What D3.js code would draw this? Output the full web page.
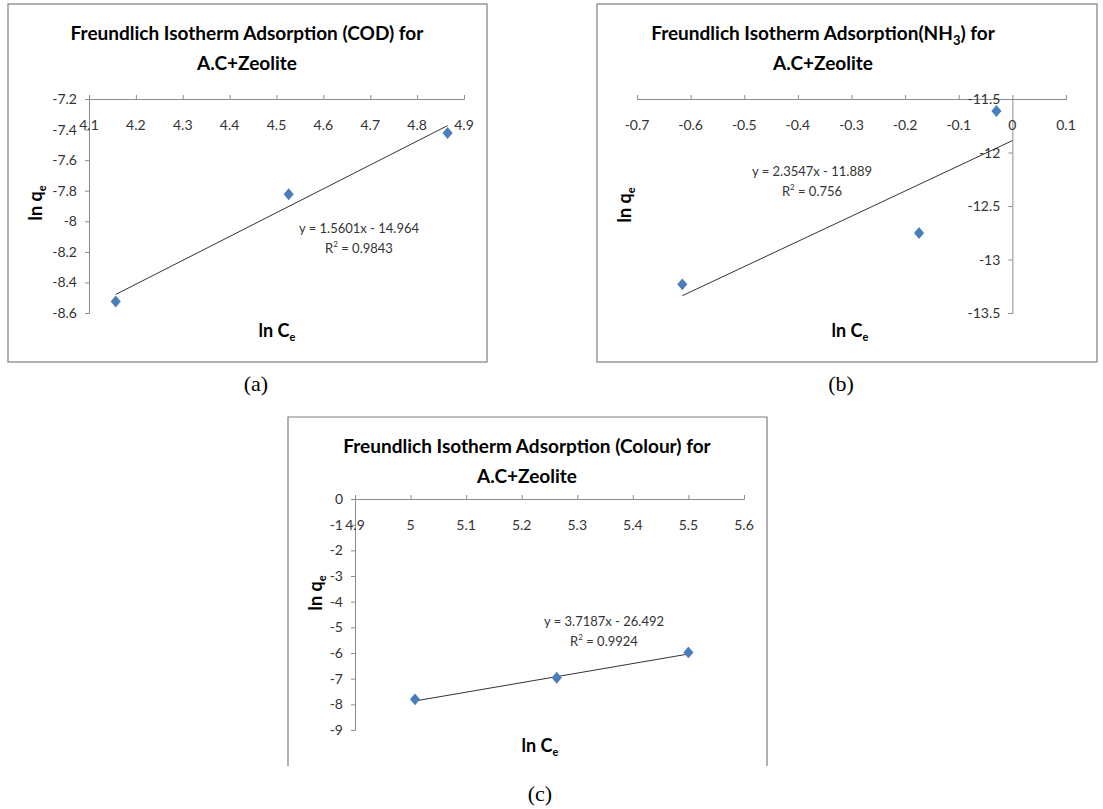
<!DOCTYPE html>
<html>
<head>
<meta charset="utf-8">
<script src="https://cdn.jsdelivr.net/npm/d3@7"></script>
<style>
  body { margin: 0; background: #fff; }
  text { font-family: Lato, "Open Sans", sans-serif; }
  .cap { font-family: "Liberation Serif", "Times New Roman", serif; }
</style>
</head>
<body>
<svg id="chart" width="1103" height="809"></svg>
<script>
// (a) COD
const codX = [4.157, 4.526, 4.865];
const codY = [-8.525, -7.823, -7.422];
const codFit = [1.5601, -14.964];
const codXTicks = [4.1, 4.2, 4.3, 4.4, 4.5, 4.6, 4.7, 4.8, 4.9];
const codYTicks = [-7.2, -7.4, -7.6, -7.8, -8, -8.2, -8.4, -8.6];

// (b) NH3
const nh3X = [-0.6155, -0.174, -0.0297];
const nh3Y = [-13.232, -12.752, -11.612];
const nh3Fit = [2.3547, -11.889];
const nh3XTicks = [-0.7, -0.6, -0.5, -0.4, -0.3, -0.2, -0.1, 0, 0.1];
const nh3YTicks = [-11.5, -12, -12.5, -13, -13.5];

// (c) Colour
const colX = [5.008, 5.263, 5.5];
const colY = [-7.806, -6.965, -5.977];
const colFit = [3.7187, -26.492];
const colXTicks = [4.9, 5, 5.1, 5.2, 5.3, 5.4, 5.5, 5.6];
const colYTicks = [0, -1, -2, -3, -4, -5, -6, -7, -8, -9];

const svg = d3.select("#chart");
const axisColor = "#8c8c8c";
const markColor = "#4a7ebb";

function drawPanel(p) {
  const g = svg.append("g");

  // frame
  const f = p.frame;
  if (p.openBottom) {
    g.append("path")
      .attr("d", `M${f.x0},${f.y1}V${f.y0}H${f.x1}V${f.y1}`)
      .attr("fill", "none").attr("stroke", "#7f7f7f").attr("stroke-width", 1.2);
  } else {
    g.append("rect")
      .attr("x", f.x0).attr("y", f.y0)
      .attr("width", f.x1 - f.x0).attr("height", f.y1 - f.y0)
      .attr("fill", "none").attr("stroke", "#7f7f7f").attr("stroke-width", 1.2);
  }

  const x = d3.scaleLinear().domain(d3.extent(p.xTicks)).range([p.plot.x0, p.plot.x1]);
  const y = d3.scaleLinear().domain(d3.extent(p.yTicks)).range([p.plot.y1, p.plot.y0]);
  const yTop = d3.max(p.yTicks);
  const xAt = p.yAxisAt;

  // x axis along top, ticks upward
  const xa = g.append("g").attr("transform", `translate(0,${y(yTop)})`)
    .call(d3.axisTop(x).tickValues(p.xTicks).tickSize(4).tickFormat(""));
  // y axis, ticks left
  const ya = g.append("g").attr("transform", `translate(${x(xAt)},0)`)
    .call(d3.axisLeft(y).tickValues(p.yTicks).tickSize(4).tickFormat(""));
  [xa, ya].forEach(a => {
    a.select(".domain").attr("stroke", axisColor);
    a.selectAll(".tick line").attr("stroke", axisColor);
  });

  // tick labels
  g.selectAll(".xl").data(p.xTicks).join("text")
    .attr("x", d => x(d)).attr("y", y(yTop) + 31)
    .attr("text-anchor", "middle").attr("font-size", 14).attr("fill", "#333")
    .text(d => +d.toFixed(2));
  g.selectAll(".yl").data(p.yTicks).join("text")
    .attr("x", x(xAt) - 12).attr("y", d => y(d) + 5)
    .attr("text-anchor", "end").attr("font-size", 14).attr("fill", "#333")
    .text(d => +d.toFixed(2));

  // trendline
  const tx = p.trendX;
  g.append("line")
    .attr("x1", x(tx[0])).attr("y1", y(p.fit[0] * tx[0] + p.fit[1]))
    .attr("x2", x(tx[1])).attr("y2", y(p.fit[0] * tx[1] + p.fit[1]))
    .attr("stroke", "#333").attr("stroke-width", 1);

  // diamond markers (a bit taller than wide, as in the original)
  g.selectAll(".pt").data(p.xs).join("path")
    .attr("d", d3.symbol(d3.symbolDiamond2, 90))
    .attr("transform", (d, i) => `translate(${x(d)},${y(p.ys[i])}) scale(0.85,1.0)`)
    .attr("fill", markColor);

  // equation
  const eq = g.append("text").attr("text-anchor", "middle").attr("font-size", 13).attr("fill", "#333");
  eq.append("tspan").attr("x", p.eq[0]).attr("y", p.eq[1])
    .text(`y = ${p.fit[0]}x - ${Math.abs(p.fit[1])}`);
  const r2 = eq.append("tspan").attr("x", p.eq[0]).attr("y", p.eq[1] + 20).text("R");
  r2.append("tspan").attr("font-size", 8).attr("dy", -6).text("2");
  r2.append("tspan").attr("dy", 6).text(` = ${p.r2}`);

  // title
  const t = g.append("text").attr("text-anchor", "middle").attr("font-size", 19)
    .attr("font-weight", "bold").attr("fill", "#000");
  const l1 = t.append("tspan").attr("x", p.title[0]).attr("y", p.title[1]);
  p.titleParts.forEach(part => {
    if (part.sub) l1.append("tspan").attr("font-size", 13).attr("dy", 5).text(part.sub);
    else l1.append("tspan").attr("dy", part.after ? -5 : 0).text(part.text);
  });
  t.append("tspan").attr("x", p.title[0]).attr("y", p.title[1] + 30).text("A.C+Zeolite");

  // axis titles
  const yt = g.append("text")
    .attr("transform", `translate(${p.yTitle[0]},${p.yTitle[1]}) rotate(-90)`)
    .attr("text-anchor", "middle").attr("font-size", 18).attr("font-weight", "bold");
  yt.append("tspan").text("ln q");
  yt.append("tspan").attr("font-size", 11).attr("dy", 4).text("e");
  const xt = g.append("text").attr("x", p.xTitle[0]).attr("y", p.xTitle[1])
    .attr("text-anchor", "middle").attr("font-size", 18).attr("font-weight", "bold");
  xt.append("tspan").text("ln C");
  xt.append("tspan").attr("font-size", 11).attr("dy", 4).text("e");

  // caption
  svg.append("text").attr("class", "cap").attr("x", p.cap[0]).attr("y", p.cap[1])
    .attr("text-anchor", "middle").attr("font-size", 22).text(p.capText);
}

drawPanel({
  frame: {x0: 8, x1: 487, y0: 4, y1: 362},
  plot: {x0: 89, x1: 464, y0: 99, y1: 313},
  xTicks: codXTicks, yTicks: codYTicks, yAxisAt: 4.1,
  xs: codX, ys: codY, fit: codFit, r2: "0.9843", trendX: [codX[0], codX[2]],
  eq: [359, 233],
  title: [247, 40],
  titleParts: [{text: "Freundlich Isotherm Adsorption (COD) for"}],
  yTitle: [42, 203], xTitle: [277, 337],
  cap: [256, 391], capText: "(a)"
});

drawPanel({
  frame: {x0: 597, x1: 1097, y0: 4, y1: 362},
  plot: {x0: 637, x1: 1066, y0: 99, y1: 313},
  xTicks: nh3XTicks, yTicks: nh3YTicks, yAxisAt: 0,
  xs: nh3X, ys: nh3Y, fit: nh3Fit, r2: "0.756", trendX: [nh3X[0], 0],
  eq: [812, 176],
  title: [823, 40],
  titleParts: [{text: "Freundlich Isotherm Adsorption(NH"}, {sub: "3"}, {text: ") for", after: true}],
  yTitle: [631, 205], xTitle: [850, 337],
  cap: [841, 391], capText: "(b)"
});

drawPanel({
  frame: {x0: 288, x1: 767, y0: 417, y1: 766}, openBottom: true,
  plot: {x0: 355, x1: 744, y0: 499, y1: 730},
  xTicks: colXTicks, yTicks: colYTicks, yAxisAt: 4.9,
  xs: colX, ys: colY, fit: colFit, r2: "0.9924", trendX: [colX[0], colX[2]],
  eq: [604, 626],
  title: [527, 453],
  titleParts: [{text: "Freundlich Isotherm Adsorption (Colour) for"}],
  yTitle: [322, 593], xTitle: [540, 752],
  cap: [540, 801], capText: "(c)"
});
</script>
</body>
</html>
